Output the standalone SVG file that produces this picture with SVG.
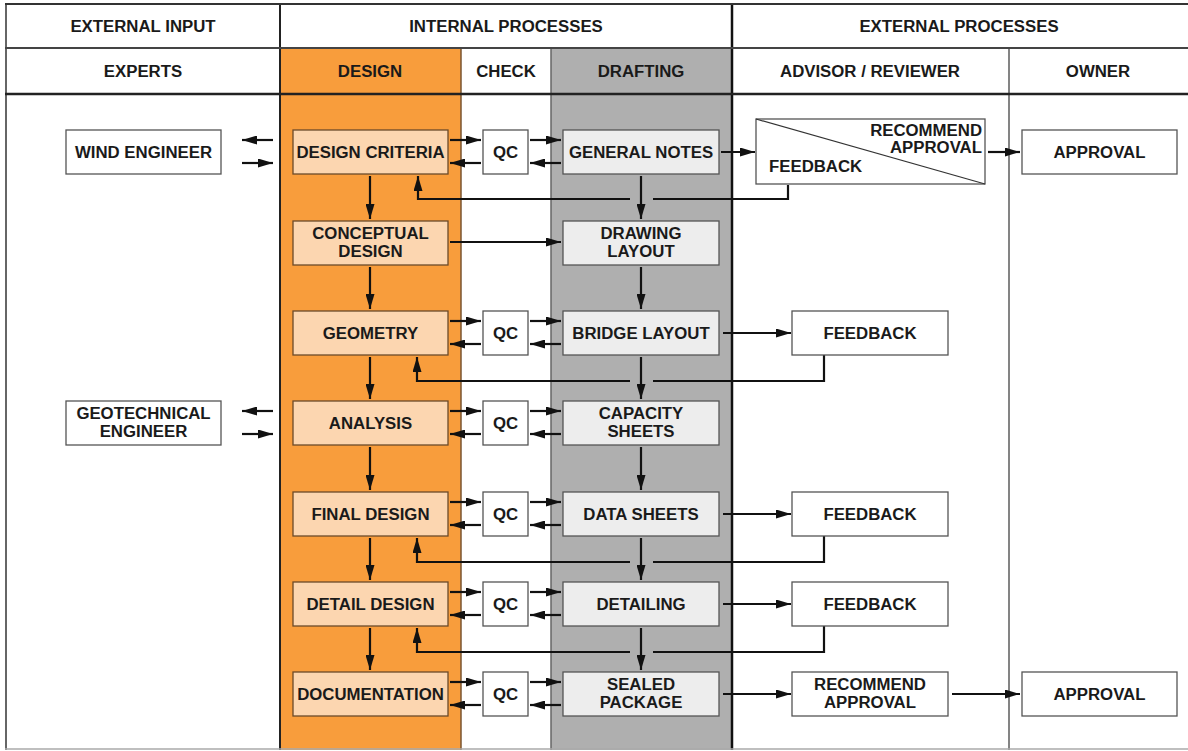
<svg xmlns="http://www.w3.org/2000/svg" width="1188" height="751" viewBox="0 0 1188 751">
<defs>
<marker id="ah" viewBox="0 0 15 9" refX="15" refY="4.5" markerWidth="15" markerHeight="9" markerUnits="userSpaceOnUse" orient="auto"><path d="M0,0 L15,4.5 L0,9 z" fill="#111"/></marker>
<style>
text{font-family:"Liberation Sans",Arial,sans-serif;font-weight:bold;font-size:16.8px;fill:#1a1a1a;text-anchor:middle}
.wb{fill:#fff;stroke:#555;stroke-width:1.3}
.db{fill:#FCD6B0;stroke:#6b4a2a;stroke-width:1.3}
.gb{fill:#EDEDED;stroke:#555;stroke-width:1.3}
.c{fill:none;stroke:#111;stroke-width:2.2}
.a{fill:none;stroke:#111;stroke-width:2.2;marker-end:url(#ah)}
</style>
</defs>
<g id="background">
<rect x="0" y="0" width="1188" height="751" fill="#fff"/>
<rect x="280" y="48" width="181" height="702" fill="#F89D3C"/>
<rect x="551" y="48" width="181" height="702" fill="#AFAFAF"/>
<line x1="461" y1="48" x2="461" y2="750" stroke="#7a5530" stroke-width="1.5"/>
<line x1="551" y1="48" x2="551" y2="750" stroke="#666" stroke-width="1.5"/>
<line x1="1009" y1="48" x2="1009" y2="750" stroke="#777" stroke-width="1.8"/>
<line x1="280" y1="3" x2="280" y2="750" stroke="#222" stroke-width="2"/>
<line x1="732" y1="3" x2="732" y2="750" stroke="#111" stroke-width="2.5"/>
<line x1="6" y1="3" x2="6" y2="750" stroke="#666" stroke-width="2"/>
<line x1="5" y1="4" x2="1188" y2="4" stroke="#333" stroke-width="2"/>
<line x1="5" y1="48" x2="1188" y2="48" stroke="#444" stroke-width="1.8"/>
<line x1="5" y1="94" x2="1188" y2="94" stroke="#222" stroke-width="2.5"/>
<line x1="5" y1="749" x2="1188" y2="749" stroke="#aaa" stroke-width="1.5"/>
</g>
<g id="headers">
<text x="143" y="32">EXTERNAL INPUT</text>
<text x="506" y="32">INTERNAL PROCESSES</text>
<text x="959" y="32">EXTERNAL PROCESSES</text>
<text x="143" y="77">EXPERTS</text>
<text x="370" y="77">DESIGN</text>
<text x="506" y="77">CHECK</text>
<text x="641" y="77">DRAFTING</text>
<text x="870" y="77">ADVISOR / REVIEWER</text>
<text x="1098" y="77">OWNER</text>
</g>
<g id="connectors">
<path class="a" d="M273,140 H242"/>
<path class="a" d="M242,163 H273"/>
<path class="a" d="M273,411 H242"/>
<path class="a" d="M242,434 H273"/>
<path class="a" d="M450,140 H481"/><path class="a" d="M481,163 H450"/><path class="a" d="M530,140 H561"/><path class="a" d="M561,163 H530"/>
<path class="a" d="M450,321 H481"/><path class="a" d="M481,344 H450"/><path class="a" d="M530,321 H561"/><path class="a" d="M561,344 H530"/>
<path class="a" d="M450,411 H481"/><path class="a" d="M481,434 H450"/><path class="a" d="M530,411 H561"/><path class="a" d="M561,434 H530"/>
<path class="a" d="M450,502 H481"/><path class="a" d="M481,525 H450"/><path class="a" d="M530,502 H561"/><path class="a" d="M561,525 H530"/>
<path class="a" d="M450,592 H481"/><path class="a" d="M481,615 H450"/><path class="a" d="M530,592 H561"/><path class="a" d="M561,615 H530"/>
<path class="a" d="M450,682 H481"/><path class="a" d="M481,705 H450"/><path class="a" d="M530,682 H561"/><path class="a" d="M561,705 H530"/>
<path class="a" d="M450,242 H561"/>
<path class="a" d="M370,176 V219"/>
<path class="a" d="M370,267 V309"/>
<path class="a" d="M370,357 V399"/>
<path class="a" d="M370,447 V490"/>
<path class="a" d="M370,538 V580"/>
<path class="a" d="M370,628 V670"/>
<path class="a" d="M641,176 V219"/>
<path class="a" d="M641,267 V309"/>
<path class="a" d="M641,357 V399"/>
<path class="a" d="M641,447 V490"/>
<path class="a" d="M641,538 V580"/>
<path class="a" d="M641,628 V670"/>
<path class="a" d="M721,152 H755"/>
<path class="a" d="M988,152 H1020"/>
<path class="a" d="M723,333 H791"/>
<path class="a" d="M723,514 H791"/>
<path class="a" d="M723,604 H791"/>
<path class="a" d="M723,694 H791"/>
<path class="a" d="M952,694 H1020"/>
<path class="c" d="M788,185 V199 H653"/><path class="a" d="M630,199 H418 V176"/>
<path class="c" d="M824,355 V381 H653"/><path class="a" d="M630,381 H417 V357"/>
<path class="c" d="M824,536 V562 H653"/><path class="a" d="M630,562 H417 V538"/>
<path class="c" d="M824,626 V652 H653"/><path class="a" d="M630,652 H417 V628"/>
</g>
<g id="wind-engineer"><rect class="wb" x="66" y="130" width="155" height="44"/><text x="143.5" y="158">WIND ENGINEER</text></g>
<g id="geotechnical-engineer"><rect class="wb" x="66" y="401" width="155" height="44"/><text x="143.5" y="419">GEOTECHNICAL</text><text x="143.5" y="437">ENGINEER</text></g>
<g id="design-criteria"><rect class="db" x="293" y="130" width="155" height="44"/><text x="370.5" y="158">DESIGN CRITERIA</text></g>
<g id="conceptual-design"><rect class="db" x="293" y="221" width="155" height="44"/><text x="370.5" y="239">CONCEPTUAL</text><text x="370.5" y="257">DESIGN</text></g>
<g id="geometry"><rect class="db" x="293" y="311" width="155" height="44"/><text x="370.5" y="339">GEOMETRY</text></g>
<g id="analysis"><rect class="db" x="293" y="401" width="155" height="44"/><text x="370.5" y="429">ANALYSIS</text></g>
<g id="final-design"><rect class="db" x="293" y="492" width="155" height="44"/><text x="370.5" y="520">FINAL DESIGN</text></g>
<g id="detail-design"><rect class="db" x="293" y="582" width="155" height="44"/><text x="370.5" y="610">DETAIL DESIGN</text></g>
<g id="documentation"><rect class="db" x="293" y="672" width="155" height="44"/><text x="370.5" y="700">DOCUMENTATION</text></g>
<g id="qc1"><rect class="wb" x="483" y="130" width="45" height="44"/><text x="505.5" y="158">QC</text></g>
<g id="qc2"><rect class="wb" x="483" y="311" width="45" height="44"/><text x="505.5" y="339">QC</text></g>
<g id="qc3"><rect class="wb" x="483" y="401" width="45" height="44"/><text x="505.5" y="429">QC</text></g>
<g id="qc4"><rect class="wb" x="483" y="492" width="45" height="44"/><text x="505.5" y="520">QC</text></g>
<g id="qc5"><rect class="wb" x="483" y="582" width="45" height="44"/><text x="505.5" y="610">QC</text></g>
<g id="qc6"><rect class="wb" x="483" y="672" width="45" height="44"/><text x="505.5" y="700">QC</text></g>
<g id="general-notes"><rect class="gb" x="563" y="130" width="156" height="44"/><text x="641" y="158">GENERAL NOTES</text></g>
<g id="drawing-layout"><rect class="gb" x="563" y="221" width="156" height="44"/><text x="641" y="239">DRAWING</text><text x="641" y="257">LAYOUT</text></g>
<g id="bridge-layout"><rect class="gb" x="563" y="311" width="156" height="44"/><text x="641" y="339">BRIDGE LAYOUT</text></g>
<g id="capacity-sheets"><rect class="gb" x="563" y="401" width="156" height="44"/><text x="641" y="419">CAPACITY</text><text x="641" y="437">SHEETS</text></g>
<g id="data-sheets"><rect class="gb" x="563" y="492" width="156" height="44"/><text x="641" y="520">DATA SHEETS</text></g>
<g id="detailing"><rect class="gb" x="563" y="582" width="156" height="44"/><text x="641" y="610">DETAILING</text></g>
<g id="sealed-package"><rect class="gb" x="563" y="672" width="156" height="44"/><text x="641" y="690">SEALED</text><text x="641" y="708">PACKAGE</text></g>
<g id="review-split"><rect class="wb" x="756" y="119" width="229" height="65" stroke="#222"/><line x1="756" y1="119" x2="985" y2="184" stroke="#333" stroke-width="1.2"/><text x="982" y="136" style="text-anchor:end">RECOMMEND</text><text x="982" y="153" style="text-anchor:end">APPROVAL</text><text x="769" y="172" style="text-anchor:start">FEEDBACK</text></g>
<g id="feedback1"><rect class="wb" x="792" y="311" width="156" height="44"/><text x="870" y="339">FEEDBACK</text></g>
<g id="feedback2"><rect class="wb" x="792" y="492" width="156" height="44"/><text x="870" y="520">FEEDBACK</text></g>
<g id="feedback3"><rect class="wb" x="792" y="582" width="156" height="44"/><text x="870" y="610">FEEDBACK</text></g>
<g id="recommend-approval"><rect class="wb" x="792" y="672" width="156" height="44"/><text x="870" y="690">RECOMMEND</text><text x="870" y="708">APPROVAL</text></g>
<g id="approval1"><rect class="wb" x="1022" y="130" width="155" height="44"/><text x="1099.5" y="158">APPROVAL</text></g>
<g id="approval2"><rect class="wb" x="1022" y="672" width="155" height="44"/><text x="1099.5" y="700">APPROVAL</text></g>
</svg>
